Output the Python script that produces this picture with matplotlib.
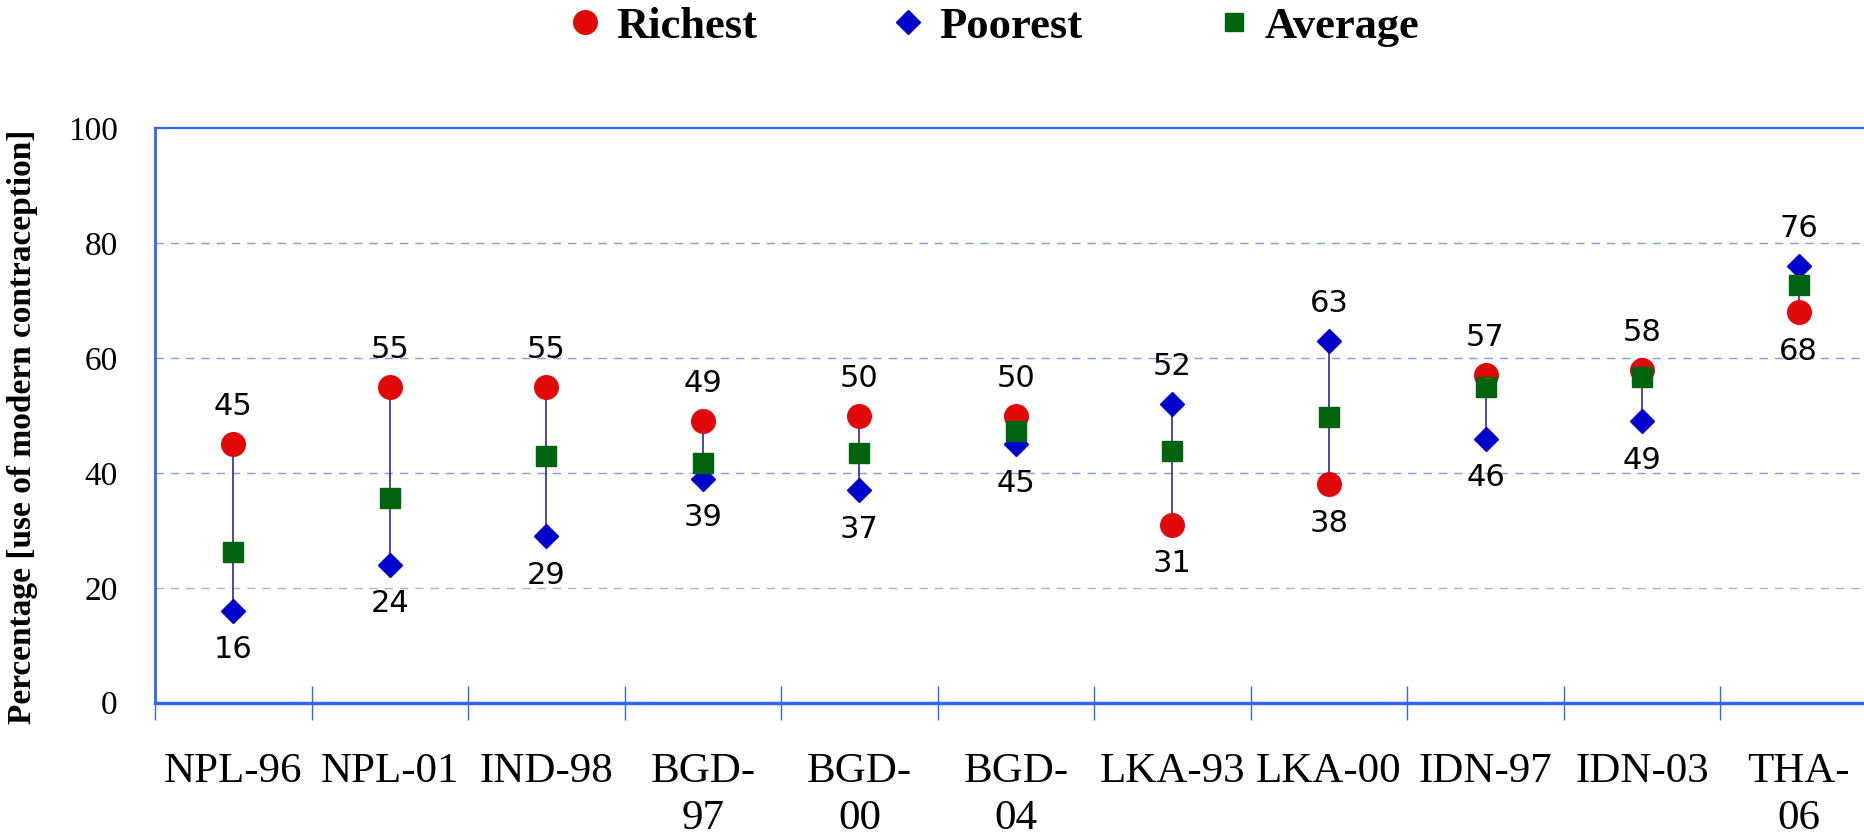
import numpy as np
import matplotlib
matplotlib.use("Agg")
import matplotlib.pyplot as plt
from matplotlib.lines import Line2D
from matplotlib.ticker import FixedLocator

# data
surveys = ["NPL-96", "NPL-01", "IND-98", "BGD-\n97", "BGD-\n00", "BGD-\n04",
           "LKA-93", "LKA-00", "IDN-97", "IDN-03", "THA-\n06"]
richest = [45, 55, 55, 49, 50, 50, 31, 38, 57, 58, 68]
poorest = [16, 24, 29, 39, 37, 45, 52, 63, 46, 49, 76]
average = [26.3, 35.6, 42.9, 41.8, 43.5, 47.4, 43.9, 49.7, 54.9, 56.7, 72.7]

RED = "#e00808"
BLUE = "#0000cc"
GREEN = "#00640f"
AXIS = "#3366ee"
SERIF = "Liberation Serif"

fig = plt.figure(figsize=(18.64, 8.35), dpi=100)
ax = fig.add_axes([0.0832, 0.1584, 0.9237, 0.6878])

x = np.arange(len(surveys))
lo = np.minimum(richest, poorest)
hi = np.maximum(richest, poorest)

# gridlines
for g in [20, 40, 60, 80]:
    ax.axhline(g, color="#7f9cf0" if g > 20 else "#b0b0c8", lw=1.0,
               ls=(0, (6, 5)), zorder=1)

ax.vlines(x, lo, hi, color="#2a2aa0", lw=1.2, zorder=2)
ax.plot(x, richest, "o", color=RED, ms=17, zorder=3, label="Richest")
ax.plot(x, poorest, "D", color=BLUE, ms=12.5, zorder=4, label="Poorest")
ax.plot(x, average, "s", color=GREEN, ms=14, zorder=5, label="Average")

# value labels: higher value above, lower value below
for xi, r, p in zip(x, richest, poorest):
    top, bot = max(r, p), min(r, p)
    ax.annotate(f"{top:d}", (xi, top), xytext=(0, 27), textcoords="offset points",
                ha="center", va="center", fontsize=22, family="DejaVu Sans")
    ax.annotate(f"{bot:d}", (xi, bot), xytext=(0, -28), textcoords="offset points",
                ha="center", va="center", fontsize=22, family="DejaVu Sans")

ax.set_xlim(-0.5, len(surveys) - 0.5)
ax.set_ylim(0, 100)
ax.set_yticks([0, 20, 40, 60, 80, 100])
ax.tick_params(axis="y", length=0, pad=27, labelsize=24)
for lbl in ax.get_yticklabels():
    lbl.set_family(SERIF)

ax.set_xticks(x)
ax.set_xticklabels(surveys, fontsize=31, family=SERIF, linespacing=1.28, va="top")
ax.tick_params(axis="x", which="major", length=0, pad=36)
ax.xaxis.set_minor_locator(FixedLocator(np.arange(-0.5, len(surveys), 1.0)))
ax.tick_params(axis="x", which="minor", direction="inout", length=24,
               width=1.0, color=AXIS)

for side in ["left", "bottom", "top"]:
    ax.spines[side].set_color(AXIS)
ax.spines["left"].set_linewidth(2.0)
ax.spines["bottom"].set_linewidth(2.5)
ax.spines["top"].set_linewidth(1.6)
ax.spines["right"].set_visible(False)

ax.set_ylabel("Percentage [use of modern contraception]", fontsize=24,
              family=SERIF, fontweight="bold")
ax.yaxis.set_label_coords(-0.068, 0.48)

handles = [
    Line2D([], [], marker="o", color=RED, ls="", ms=17),
    Line2D([], [], marker="D", color=BLUE, ls="", ms=12.5),
    Line2D([], [], marker="s", color=GREEN, ls="", ms=13),
]
fig.legend(handles, ["Richest", "Poorest", "Average"], loc="center",
           bbox_to_anchor=(0.533, 0.968), ncol=3, frameon=False,
           prop={"family": SERIF, "weight": "bold", "size": 32},
           handlelength=0.8, handletextpad=0.3, columnspacing=3.0)

fig.savefig("out.png", dpi=100)
